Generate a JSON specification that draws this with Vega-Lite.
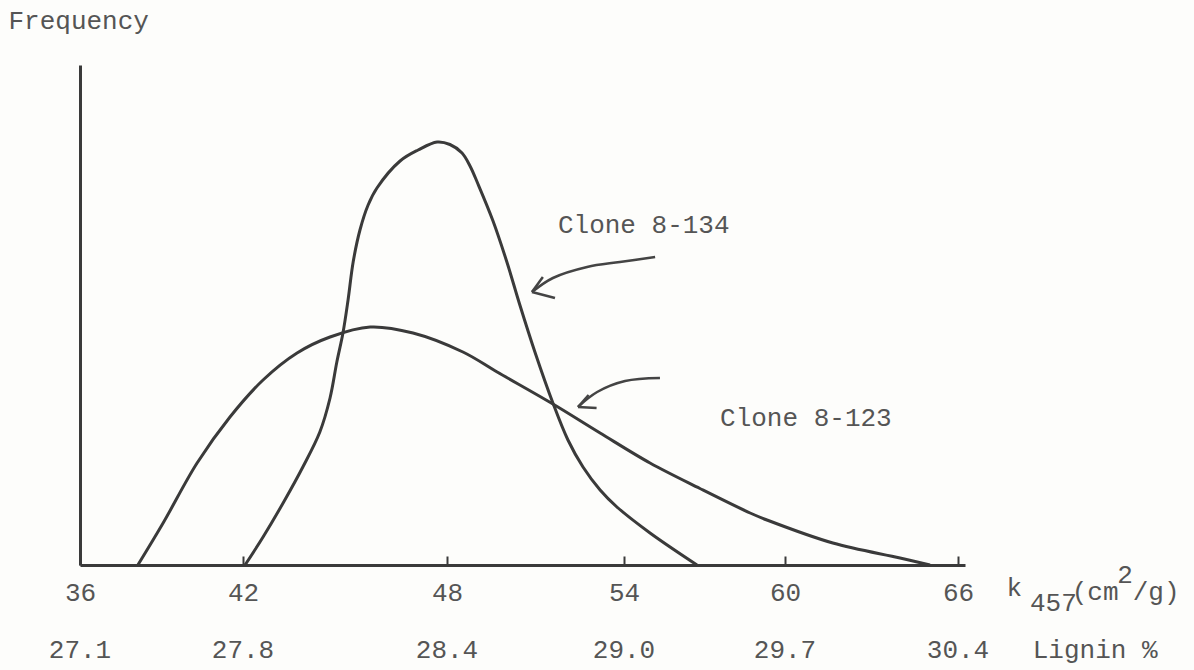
{
  "$schema": "https://vega.github.io/schema/vega-lite/v6.json",
  "width": 885,
  "height": 500,
  "autosize": "none",
  "padding": {"left": 80, "top": 65, "right": 229, "bottom": 105},
  "background": "#fdfdfb",
  "config": {"view": {"stroke": null}, "font": "Liberation Mono"},
  "datasets": {
    "curves": [
      {"clone": "8-134", "k": 42.06, "f": 0},
      {"clone": "8-134", "k": 42.59, "f": 5.6},
      {"clone": "8-134", "k": 43.18, "f": 12.4},
      {"clone": "8-134", "k": 43.76, "f": 19.6},
      {"clone": "8-134", "k": 44.26, "f": 26.6},
      {"clone": "8-134", "k": 44.56, "f": 33.4},
      {"clone": "8-134", "k": 44.76, "f": 40.6},
      {"clone": "8-134", "k": 44.94, "f": 46.4},
      {"clone": "8-134", "k": 45.09, "f": 53},
      {"clone": "8-134", "k": 45.24, "f": 60.6},
      {"clone": "8-134", "k": 45.44, "f": 67},
      {"clone": "8-134", "k": 45.68, "f": 72},
      {"clone": "8-134", "k": 45.94, "f": 75.4},
      {"clone": "8-134", "k": 46.62, "f": 80.8},
      {"clone": "8-134", "k": 47.15, "f": 83},
      {"clone": "8-134", "k": 47.71, "f": 84.6},
      {"clone": "8-134", "k": 48.1, "f": 84.1},
      {"clone": "8-134", "k": 48.51, "f": 82.4},
      {"clone": "8-134", "k": 48.78, "f": 79.8},
      {"clone": "8-134", "k": 49.05, "f": 76.2},
      {"clone": "8-134", "k": 49.56, "f": 68.8},
      {"clone": "8-134", "k": 50.03, "f": 60.6},
      {"clone": "8-134", "k": 50.47, "f": 52},
      {"clone": "8-134", "k": 50.98, "f": 42.6},
      {"clone": "8-134", "k": 51.59, "f": 32.4},
      {"clone": "8-134", "k": 52.1, "f": 25},
      {"clone": "8-134", "k": 52.61, "f": 19.6},
      {"clone": "8-134", "k": 53.19, "f": 15},
      {"clone": "8-134", "k": 53.76, "f": 11.6},
      {"clone": "8-134", "k": 54.97, "f": 6.4},
      {"clone": "8-134", "k": 56.72, "f": 0},
      {"clone": "8-123", "k": 38.13, "f": 0},
      {"clone": "8-123", "k": 39.06, "f": 8.4},
      {"clone": "8-123", "k": 40.31, "f": 20.4},
      {"clone": "8-123", "k": 41.52, "f": 29.6},
      {"clone": "8-123", "k": 42.59, "f": 37},
      {"clone": "8-123", "k": 43.59, "f": 42.4},
      {"clone": "8-123", "k": 44.56, "f": 45.6},
      {"clone": "8-123", "k": 45.74, "f": 47.6},
      {"clone": "8-123", "k": 47.0, "f": 46.4},
      {"clone": "8-123", "k": 48.54, "f": 42.6},
      {"clone": "8-123", "k": 49.7, "f": 38.6},
      {"clone": "8-123", "k": 51.59, "f": 32.2},
      {"clone": "8-123", "k": 53.19, "f": 26.4},
      {"clone": "8-123", "k": 54.97, "f": 20.4},
      {"clone": "8-123", "k": 56.83, "f": 15.3},
      {"clone": "8-123", "k": 58.7, "f": 10.4},
      {"clone": "8-123", "k": 59.33, "f": 9},
      {"clone": "8-123", "k": 61.66, "f": 4.4},
      {"clone": "8-123", "k": 63.99, "f": 1.4},
      {"clone": "8-123", "k": 65.03, "f": 0}
    ],
    "arrows": [
      {"seg": "a1", "k": 55.16, "f": 61.6},
      {"seg": "a1", "k": 53.86, "f": 60.6},
      {"seg": "a1", "k": 52.75, "f": 59.6},
      {"seg": "a1", "k": 51.59, "f": 57.4},
      {"seg": "a1", "k": 50.88, "f": 54.6},
      {"seg": "a1u", "k": 50.88, "f": 54.6},
      {"seg": "a1u", "k": 51.25, "f": 57.6},
      {"seg": "a1l", "k": 50.88, "f": 54.6},
      {"seg": "a1l", "k": 51.66, "f": 53.4},
      {"seg": "a2", "k": 55.34, "f": 37.4},
      {"seg": "a2", "k": 54.04, "f": 36.8},
      {"seg": "a2", "k": 53.09, "f": 34.6},
      {"seg": "a2", "k": 52.44, "f": 31.6},
      {"seg": "a2u", "k": 52.44, "f": 31.6},
      {"seg": "a2u", "k": 52.8, "f": 34},
      {"seg": "a2l", "k": 52.44, "f": 31.6},
      {"seg": "a2l", "k": 53.07, "f": 31.4}
    ],
    "lignin": [
      {"k": 36, "lignin": "27.1"},
      {"k": 42, "lignin": "27.8"},
      {"k": 48, "lignin": "28.4"},
      {"k": 54, "lignin": "29.0"},
      {"k": 60, "lignin": "29.7"},
      {"k": 66, "lignin": "30.4"}
    ],
    "notes": [
      {"k": 51.76, "f": 68, "label": "Clone 8-134"},
      {"k": 57.58, "f": 29.4, "label": "Clone 8-123"},
      {"k": 67.73, "f": -4.6, "label": "k"},
      {"k": 68.57, "f": -7.6, "label": "457"},
      {"k": 70.06, "f": -5.4, "label": "(cm"},
      {"k": 71.69, "f": -2, "label": "2"},
      {"k": 72.24, "f": -5.4, "label": "/g)"},
      {"k": 68.67, "f": -17, "label": "Lignin %"}
    ]
  },
  "layer": [
    {
      "data": {"name": "curves"},
      "mark": {"type": "line", "interpolate": "catmull-rom", "color": "#3a3a3a", "strokeWidth": 3},
      "encoding": {
        "x": {
          "field": "k", "type": "quantitative",
          "scale": {"domain": [36, 42, 48, 54, 60, 66, 66.25], "range": [0, 163, 367, 544, 705, 878, 885], "nice": false, "zero": false},
          "axis": {
            "values": [36, 42, 48, 54, 60, 66], "title": null, "grid": false,
            "domainColor": "#3a3a3a", "domainWidth": 3,
            "tickColor": "#3a3a3a", "tickWidth": 2, "tickSize": -9,
            "labelFont": "Liberation Mono", "labelFontSize": 26, "labelColor": "#555555",
            "labelPadding": 23, "labelFlush": false, "labelOverlap": false
          }
        },
        "y": {
          "field": "f", "type": "quantitative",
          "scale": {"domain": [0, 100], "nice": false, "zero": false},
          "axis": {
            "domain": true, "domainColor": "#3a3a3a", "domainWidth": 3,
            "ticks": false, "labels": false, "grid": false,
            "title": "Frequency", "titleAngle": 0, "titleX": -72, "titleY": -45,
            "titleAlign": "left", "titleBaseline": "middle",
            "titleFont": "Liberation Mono", "titleFontSize": 26, "titleFontWeight": "normal", "titleColor": "#555555"
          }
        },
        "detail": {"field": "clone", "type": "nominal"}
      }
    },
    {
      "data": {"name": "arrows"},
      "mark": {"type": "line", "interpolate": "catmull-rom", "color": "#444444", "strokeWidth": 2.5},
      "encoding": {
        "x": {"field": "k", "type": "quantitative"},
        "y": {"field": "f", "type": "quantitative"},
        "detail": {"field": "seg", "type": "nominal"}
      }
    },
    {
      "data": {"name": "lignin"},
      "mark": {"type": "text", "font": "Liberation Mono", "fontSize": 26, "color": "#555555", "align": "center", "baseline": "middle"},
      "encoding": {
        "x": {"field": "k", "type": "quantitative"},
        "y": {"datum": -17},
        "text": {"field": "lignin", "type": "nominal"}
      }
    },
    {
      "data": {"name": "notes"},
      "mark": {"type": "text", "font": "Liberation Mono", "fontSize": 26, "color": "#555555", "align": "left", "baseline": "middle"},
      "encoding": {
        "x": {"field": "k", "type": "quantitative"},
        "y": {"field": "f", "type": "quantitative"},
        "text": {"field": "label", "type": "nominal"}
      }
    }
  ]
}
